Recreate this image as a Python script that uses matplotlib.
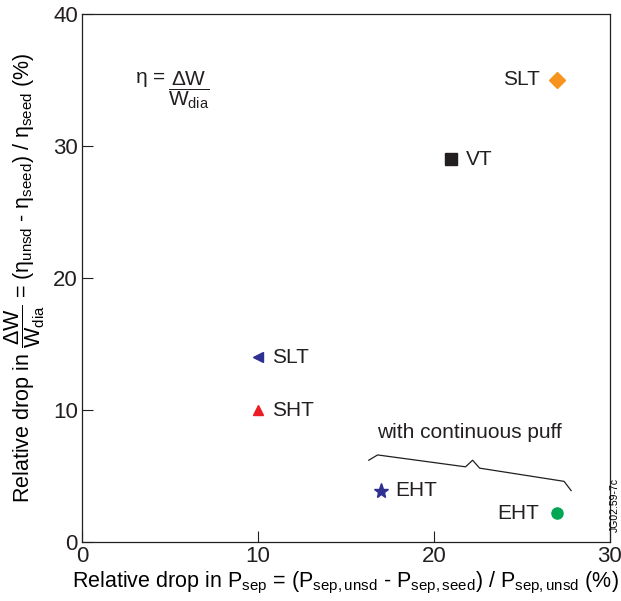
import matplotlib
matplotlib.use('Agg')
import matplotlib.pyplot as plt

plt.rcParams['font.family'] = ['Liberation Sans', 'DejaVu Sans']
plt.rcParams['mathtext.fontset'] = 'custom'
plt.rcParams['mathtext.rm'] = 'Liberation Sans'
plt.rcParams['mathtext.it'] = 'Liberation Sans'
plt.rcParams['mathtext.sf'] = 'Liberation Sans'

# data
labels = ['SLT', 'VT', 'SLT', 'SHT', 'EHT', 'EHT']
p_drop = [27, 21, 10, 10, 17, 27]
w_drop = [35, 29, 14, 10, 3.9, 2.2]
markers = ['D', 's', '<', '^', '*', 'o']
colors = ['#f7941d', '#231f20', '#2e3192', '#ed1c24', '#2e3192', '#00a651']
label_side = ['left', 'right', 'right', 'right', 'right', 'left']

# brace over the continuous-puff points
brace_x = [16.3, 16.8, 21.8, 22.2, 22.6, 27.4, 27.8]
brace_y = [6.2, 6.6, 5.7, 6.2, 5.6, 4.6, 3.9]

fig = plt.figure(figsize=(6.21, 6.01), dpi=100)
ax = fig.add_axes([0.132, 0.098, 0.85, 0.879])

for x, y, m, c, lab, side in zip(p_drop, w_drop, markers, colors, labels, label_side):
    size = 11 if m == '*' else 8
    if m in ('<', '^'):
        size = 7
    ax.plot(x, y, marker=m, color=c, markersize=size, linestyle='none')
    if side == 'right':
        ax.text(x + 0.8, y, lab, fontsize=15, va='center', ha='left', color='#231f20')
    else:
        ax.text(x - 1.0, y, lab, fontsize=15, va='center', ha='right', color='#231f20')

ax.plot(brace_x, brace_y, color='#231f20', linewidth=0.9)
ax.text(22, 8.3, 'with continuous puff', fontsize=15, ha='center', va='center', color='#231f20')

ax.text(3, 35.0, r'$\eta$ =', fontsize=15, ha='left', va='center', color='#231f20')
ax.text(4.9, 34.2, r'$\dfrac{\Delta W}{W_{\rm dia}}$', fontsize=15,
        ha='left', va='center', color='#231f20')

ax.set_xlim(0, 30)
ax.set_ylim(0, 40)
ax.set_xticks([0, 10, 20, 30])
ax.set_yticks([0, 10, 20, 30, 40])
ax.tick_params(direction='in', length=8, width=0.8, colors='#231f20', labelsize=16,
               pad=3)
for s in ax.spines.values():
    s.set_linewidth(0.9)
    s.set_color('#231f20')

ax.set_xlabel(r'Relative drop in P$_{\rm sep}$ = (P$_{\rm sep,unsd}$ - P$_{\rm sep,seed}$) / P$_{\rm sep,unsd}$ (%)',
              fontsize=15.5, labelpad=2)
ax.set_ylabel(r'Relative drop in $\dfrac{\Delta W}{W_{\rm dia}}$ = ($\eta_{\rm unsd}$ - $\eta_{\rm seed}$) / $\eta_{\rm seed}$ (%)',
              fontsize=15.5, labelpad=4)

fig.text(0.99, 0.16, 'JG02.59-7c', rotation=90, fontsize=7.5, ha='center', va='center')

fig.savefig('out.png', dpi=100)
